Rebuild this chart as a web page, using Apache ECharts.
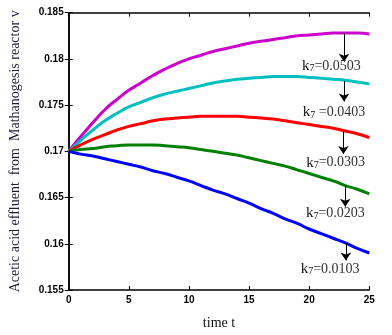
<!DOCTYPE html>
<html>
<head>
<meta charset="utf-8">
<script src="https://cdn.jsdelivr.net/npm/echarts@6/dist/echarts.min.js"></script>
<style>
  html, body { margin: 0; padding: 0; background: #fff; }
  #chart { width: 392px; height: 335px; }
</style>
</head>
<body>
<div id="chart"></div>
<script>
// time axis
var times = [0,1,2,3,4,5,6,7,8,9,10,11,12,13,14,15,16,17,18,19,20,21,22,23,24,25];

// one curve per k7 value
var k0503 = [0.1700,0.1716,0.1731,0.1745,0.1756,0.1766,0.1774,0.1782,0.1789,0.1795,0.1800,0.1804,0.1808,0.1811,0.1814,0.1817,0.1819,0.1821,0.1823,0.1825,0.1826,0.1827,0.1828,0.1828,0.1828,0.1827];
var k0403 = [0.1700,0.1712,0.1723,0.1733,0.1741,0.1748,0.1753,0.1758,0.1762,0.1765,0.1768,0.1771,0.1774,0.1776,0.1778,0.1779,0.1780,0.1781,0.1781,0.1781,0.1780,0.1779,0.1778,0.1777,0.1775,0.1773];
var k0303 = [0.1700,0.1707,0.1713,0.1718,0.1723,0.1727,0.1730,0.1733,0.1735,0.1736,0.1737,0.1738,0.1738,0.1738,0.1738,0.1737,0.1736,0.1735,0.1733,0.1731,0.1729,0.1727,0.1725,0.1722,0.1719,0.1715];
var k0203 = [0.1700,0.1702,0.1703,0.1705,0.1706,0.1707,0.1707,0.1707,0.1706,0.1705,0.1704,0.1702,0.1700,0.1698,0.1696,0.1693,0.1690,0.1687,0.1684,0.1680,0.1676,0.1672,0.1668,0.1663,0.1659,0.1654];
var k0103 = [0.1700,0.1697,0.1695,0.1692,0.1689,0.1686,0.1683,0.1679,0.1676,0.1672,0.1668,0.1663,0.1658,0.1654,0.1649,0.1644,0.1638,0.1633,0.1627,0.1622,0.1616,0.1611,0.1606,0.1601,0.1595,0.1590];

var xTicks = [0, 5, 10, 15, 20, 25];
var yTicks = [0.155, 0.16, 0.165, 0.17, 0.175, 0.18, 0.185];

// annotation: label text, arrow [t, from, to], label position [t, v]
var kLabels = ['=0.0503', ' =0.0403', '=0.0303', '=0.0203', '=0.0103'];
var arrows = [[22.9, 0.1828, 0.1797], [22.9, 0.1776, 0.1754], [22.85, 0.1722, 0.1697], [23.0, 0.1663, 0.1640], [23.05, 0.1601, 0.1582]];
var labelPos = [[21.85, 0.17925], [22.07, 0.17421], [22.2, 0.16878], [22.18, 0.16327], [21.74, 0.15727]];

var curves = [k0503, k0403, k0303, k0203, k0103];
var colors = ['#cc00cc', '#00bfbf', '#ff0000', '#008000', '#0000ff'];

var myChart = echarts.init(document.getElementById('chart'));

var series = curves.map(function (vals, i) {
    return {
        type: 'line',
        smooth: true,
        symbol: 'none',
        data: times.map(function (t, j) { return [t, vals[j]]; }),
        lineStyle: { color: colors[i], width: 3 },
        z: 3,
        markLine: {
            silent: true,
            symbol: ['none', 'arrow'],
            symbolSize: 8,
            label: { show: false },
            lineStyle: { color: '#000', width: 1, type: 'solid' },
            data: [[
                { coord: [arrows[i][0], arrows[i][1]] },
                { coord: [arrows[i][0], arrows[i][2]] }
            ]]
        },
        markPoint: {
            silent: true,
            symbolSize: 0,
            data: [{
                coord: labelPos[i],
                label: {
                    show: true,
                    position: 'inside',
                    formatter: '{k|k}{s|7}{v|' + kLabels[i] + '}',
                    rich: {
                        k: { fontFamily: 'Liberation Serif', fontSize: 15, color: '#111' },
                        s: { fontFamily: 'Liberation Serif', fontSize: 10, color: '#111', verticalAlign: 'bottom', lineHeight: 10 },
                        v: { fontFamily: 'Liberation Serif', fontSize: 14, color: '#333' }
                    }
                }
            }]
        }
    };
});

var frameAxis = {
    axisLine: { lineStyle: { color: '#000', width: 1.5 } },
    axisTick: { inside: true, length: 4, lineStyle: { color: '#000', width: 1 } },
    splitLine: { show: false }
};

var option = {
    animation: false,
    grid: { left: 68.7, right: 22.7, top: 12.7, bottom: 40.7 },
    xAxis: [
        Object.assign({
            type: 'value', min: 0, max: 25, interval: 5,
            name: 'time t', nameLocation: 'middle', nameGap: 26,
            nameTextStyle: { fontFamily: 'Liberation Serif', fontSize: 14, color: '#111' },
            axisLabel: {
                color: '#000', fontWeight: 'bold', fontSize: 10, fontFamily: 'Liberation Sans', margin: 5,
                formatter: function (v) { return xTicks.indexOf(v) >= 0 ? String(v) : ''; }
            }
        }, frameAxis),
        Object.assign({
            type: 'value', min: 0, max: 25, interval: 5, position: 'top',
            axisLabel: { show: false }
        }, frameAxis)
    ],
    yAxis: [
        Object.assign({
            type: 'value', min: 0.155, max: 0.185, interval: 0.005,
            name: 'Acetic acid effluent  from  Mathanogesis reactor v',
            nameLocation: 'middle', nameGap: 46,
            nameTextStyle: { fontFamily: 'Liberation Serif', fontSize: 14, color: '#1c1c3a' },
            axisLabel: {
                color: '#000', fontWeight: 'bold', fontSize: 10, fontFamily: 'Liberation Sans', margin: 5,
                formatter: function (v) {
                    var r = +v.toFixed(3);
                    return yTicks.indexOf(r) >= 0 ? String(r) : '';
                }
            }
        }, frameAxis),
        Object.assign({
            type: 'value', min: 0.155, max: 0.185, interval: 0.005, position: 'right',
            axisLabel: { show: false }
        }, frameAxis)
    ],
    series: series
};

myChart.setOption(option);
window.addEventListener('resize', function () {
    myChart.resize();
});
</script>
</body>
</html>
